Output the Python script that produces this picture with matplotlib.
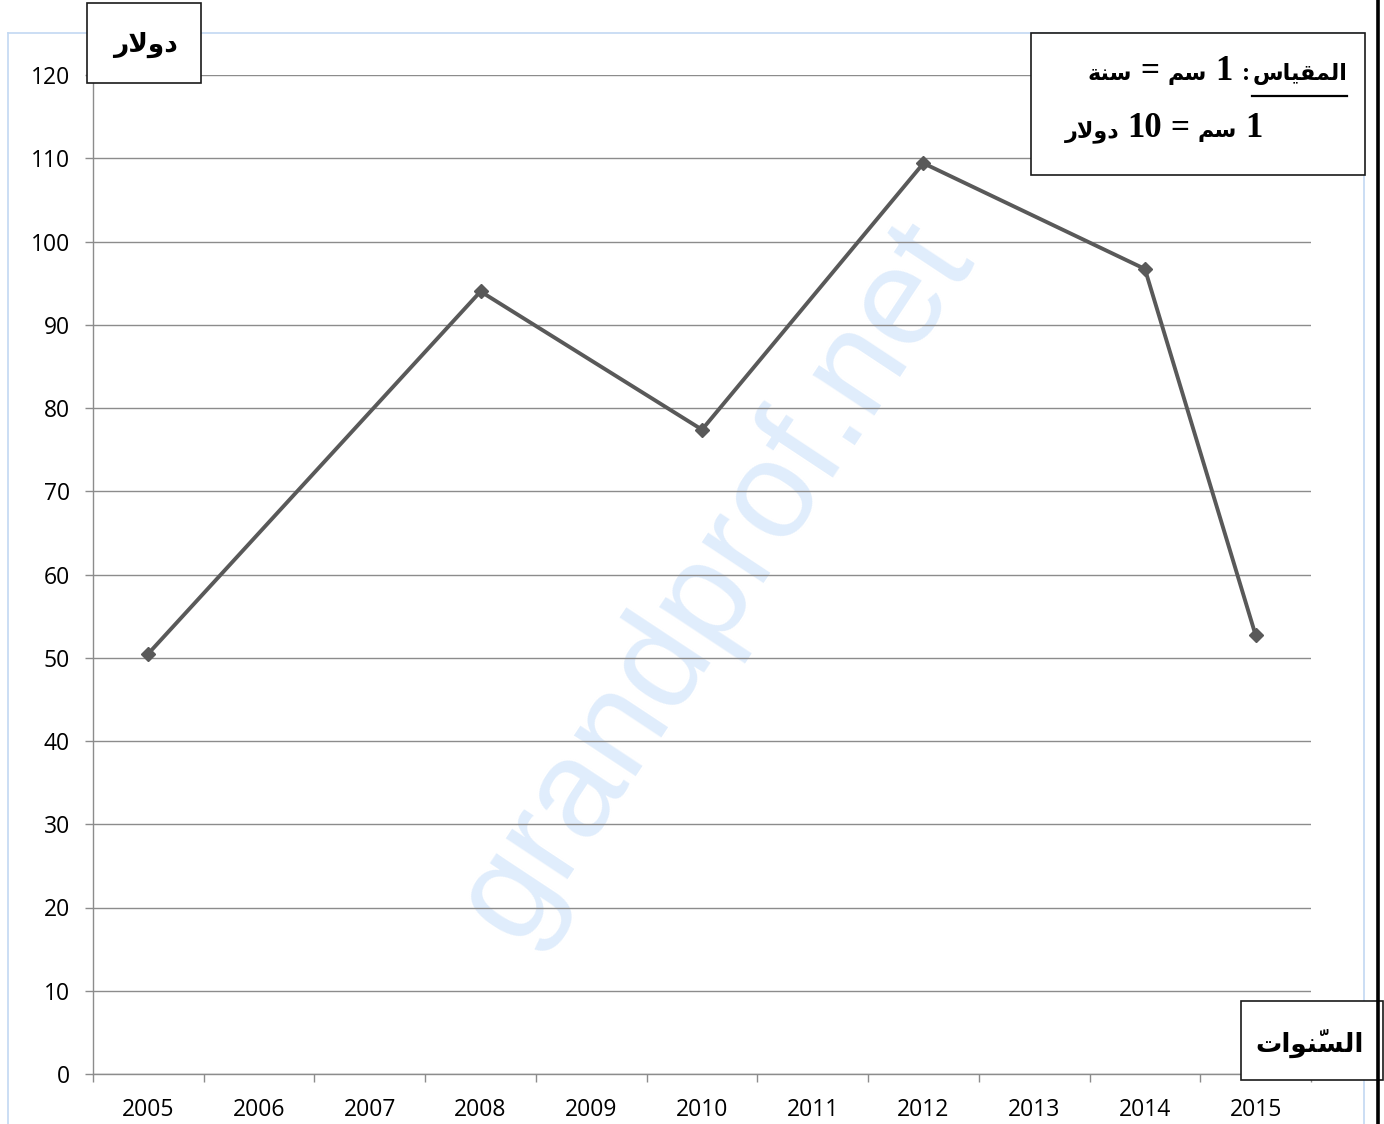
import matplotlib
matplotlib.use("Agg")
import matplotlib.pyplot as plt
from matplotlib.patches import Rectangle
from matplotlib.lines import Line2D
import numpy as np

# ---- data ----
categories = ["2005", "2006", "2007", "2008", "2009", "2010",
              "2011", "2012", "2013", "2014", "2015"]
point_years = ["2005", "2008", "2010", "2012", "2014", "2015"]
point_values = [50.5, 94.0, 77.4, 109.4, 96.7, 52.7]
y_ticks = [0, 10, 20, 30, 40, 50, 60, 70, 80, 90, 100, 110, 120]

# Arabic text (presentation forms, visual order for LTR renderer)
t_dollar = "\uFEAD\uFEFB\uFEED\uFEA9"                       # دولار
t_years = "\uFE95\uFE8D\uFEEE\uFEE8\u0651\uFEB4\uFEDF\uFE8D"  # السّنوات
t_scale = "\uFEB1\uFE8E\uFEF4\uFED8\uFEE4\uFEDF\uFE8D"        # المقياس
t_cm = "\uFEE2\uFEB3"                                         # سم
t_year = "\uFE94\uFEE8\uFEB3"                                 # سنة

W, H = 1384, 1124
fig = plt.figure(figsize=(W / 100, H / 100), dpi=100)
fig.patch.set_facecolor("white")

def fx(x):
    return x / W

def fy(y):
    return 1 - y / H

left, right, top, bottom = 93, 1311, 75, 1074
ax = fig.add_axes([fx(left), fy(bottom), (right - left) / W, (bottom - top) / H])

x_idx = [categories.index(c) for c in point_years]
grid_c = "#8c8c8c"
ax.plot(x_idx, point_values, color="#595959", lw=2.8, marker="D", ms=7.5,
        markeredgecolor="#595959", markerfacecolor="#595959", zorder=3,
        clip_on=False)

ax.set_xlim(-0.5, len(categories) - 0.5)
ax.set_ylim(0, 120)
ax.set_yticks(y_ticks)
ax.set_yticklabels([str(v) for v in y_ticks])
ax.set_xticks(range(len(categories)))
ax.set_xticklabels(categories)
ax.set_xticks(np.arange(-0.5, len(categories), 1.0), minor=True)
ax.tick_params(axis="x", which="major", length=0, pad=17)
ax.tick_params(axis="x", which="minor", length=5.5, width=1, color=grid_c)
ax.tick_params(axis="y", which="major", length=5.5, width=1, color=grid_c, pad=11)
for lab in ax.get_xticklabels() + ax.get_yticklabels():
    lab.set_fontfamily("Open Sans")
    lab.set_fontsize(16.5)
    lab.set_color("black")

ax.grid(axis="y", color=grid_c, lw=1.0)
ax.set_axisbelow(True)
for s in ["top", "right"]:
    ax.spines[s].set_visible(False)
for s in ["left", "bottom"]:
    ax.spines[s].set_color(grid_c)
    ax.spines[s].set_linewidth(1.0)

# watermark
ax.text(fx(716), fy(582), "grandprof.net", transform=fig.transFigure,
        rotation=56.5, rotation_mode="anchor", ha="center", va="center",
        fontsize=100, family="Liberation Sans", color="#e0edfc", zorder=0.1,
        clip_on=False)

# chart-area border (light blue) and page line (black)
blue = "#c2d8f2"
fig.add_artist(Line2D([fx(8), fx(8)], [fy(33), fy(1124)], color=blue, lw=1.2, zorder=1))
fig.add_artist(Line2D([fx(8), fx(1364)], [fy(33), fy(33)], color=blue, lw=1.2, zorder=1))
fig.add_artist(Line2D([fx(1364), fx(1364)], [fy(33), fy(1124)], color=blue, lw=1.2, zorder=1))
fig.add_artist(Line2D([fx(1378), fx(1378)], [fy(0), fy(1124)], color="black", lw=2.6, zorder=5))

def box(x0, y0, x1, y1):
    fig.add_artist(Rectangle((fx(x0), fy(y1)), (x1 - x0) / W, (y1 - y0) / H,
                             transform=fig.transFigure, facecolor="white",
                             edgecolor="#1a1a1a", lw=1.2, zorder=3))

arab = ["DejaVu Sans"]
serif = ["Liberation Serif", "DejaVu Sans"]

box(87, 3, 201, 83)
fig.text(fx(145), fy(45), t_dollar, ha="center", va="center", fontsize=19,
         fontweight="bold", family=arab, zorder=4)

box(1241, 1001, 1383, 1080)
fig.text(fx(1310), fy(1043), t_years, ha="center", va="center", fontsize=19,
         fontweight="bold", family=arab, zorder=4)

box(1031, 33, 1365, 175)
renderer = fig.canvas.get_renderer()

def place_rtl(x_right, y_base, pieces):
    # pieces: (text, family, size, gap_after_px) placed right to left
    x = x_right
    out = []
    for s, fam, size, gap in pieces:
        t = fig.text(fx(x), fy(y_base), s, ha="right", va="baseline",
                     fontsize=size, fontweight="bold", family=fam, zorder=4)
        ext = t.get_window_extent(renderer)
        out.append(ext)
        x -= ext.width + gap
    return out

ar_size = 16
num_size = 25
eq_size = 24
exts = place_rtl(1347, 80, [
    (t_scale, arab, ar_size, 2),
    (":", serif, 18, 9),
    ("1", serif, num_size, 9),
    (t_cm, arab, ar_size, 8),
    ("=", serif, eq_size, 8),
    (t_year, arab, ar_size, 0),
])
e0 = exts[0]
fig.add_artist(Line2D([e0.x0 / W, e0.x1 / W], [fy(96), fy(96)], color="black",
                      lw=1.6, zorder=4))
place_rtl(1263, 137, [
    ("1", serif, num_size, 9),
    (t_cm, arab, ar_size, 8),
    ("=", serif, eq_size, 8),
    ("10", serif, num_size, 8),
    (t_dollar, arab, ar_size, 0),
])

fig.savefig("out.png", dpi=100)
